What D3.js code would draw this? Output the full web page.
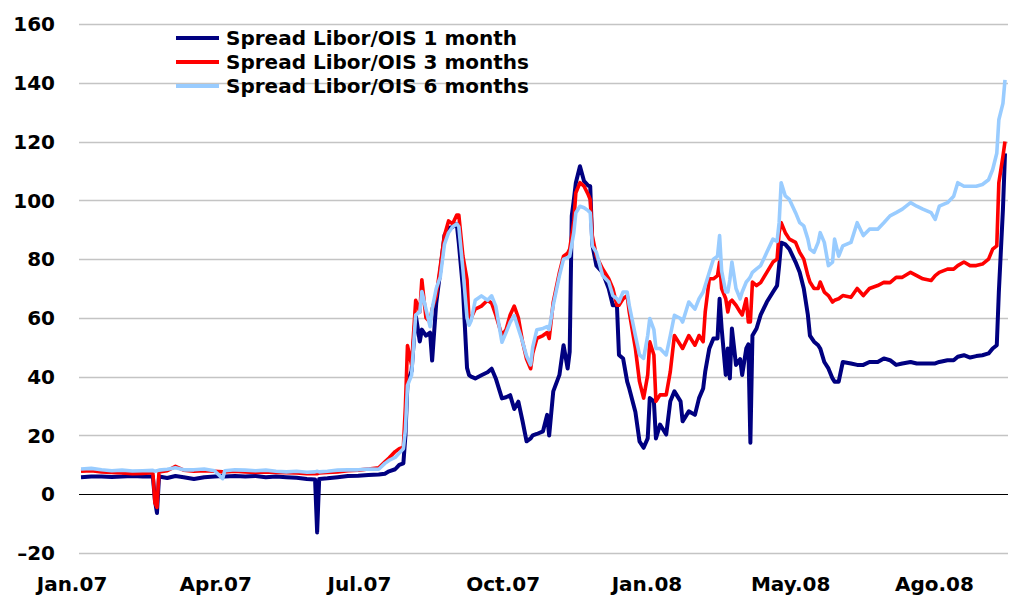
<!DOCTYPE html>
<html>
<head>
<meta charset="utf-8">
<script src="https://cdn.jsdelivr.net/npm/d3@7"></script>
<style>
  body { margin: 0; background: #fff; }
  svg text { font-family: "DejaVu Sans", sans-serif; font-weight: bold; font-size: 20px; fill: #000; }
</style>
</head>
<body>
<div id="vis"></div>
<script>
// business-day index of each sample (0 = first trading day of Jan 2007)
const day = [0,5,10,15,20,25,30,35,36,37,38,42,46,50,55,60,65,69,70,75,80,85,90,95,100,105,110,114,115,116,120,125,130,135,140,145,148,150,153,155,157,158,159,161,163,165,166,168,170,171,173,175,177,179,181,183,184,186,188,189,190,192,195,198,200,202,205,207,209,211,213,215,217,219,220,222,225,227,228,230,233,235,237,238,239,240,241,243,245,247,248,249,251,254,257,259,261,262,264,266,267,270,272,274,276,277,279,280,282,285,287,289,292,293,296,299,301,303,304,306,308,310,311,312,314,315,316,317,319,321,322,324,325,326,327,329,331,334,337,339,340,341,343,345,348,350,352,354,355,357,359,360,362,364,366,367,369,371,375,378,381,384,388,391,394,397,400,404,407,410,414,416,418,422,425,427,430,433,436,439,442,444,446,447,449,450];

const oneMonth = [5.8,6.0,6.0,5.9,6.0,6.2,6.0,6.0,-2,-6.4,6.0,5.5,6.2,5.8,5.2,5.8,6.0,6.2,6.0,6.2,6.0,6.2,5.8,6.0,5.8,5.6,5.2,5.0,-13,5.2,5.4,5.8,6.2,6.3,6.5,6.7,7.0,7.8,8.5,10,10.5,20,38,42,61,52,56,54,55,45.5,65,76,88,90.5,91,92,85.5,70,43,40.5,40,39.4,40.5,41.5,42.7,39.4,32.6,33,33.7,29,31.5,25,18,19,20,20.5,21.4,27,20,35,40.6,50.7,42.8,48.5,94.7,100,106,111.6,106.5,105,104.8,85,77.8,75.5,70,64.3,64.3,47.4,46.2,38.3,36,28,18,15.8,19,32.7,31.6,19,23.7,20.3,31.6,35,31.6,24.8,28.2,27,32.7,36,41.7,49.6,53,53,66.5,56.4,40.6,49.6,39.4,56.4,44,46,40.6,49.6,51,17.5,54,56.4,61,65.4,68.8,71,77.8,85.6,85,83.4,79,75.5,70,61,54,51.9,50.7,49.6,45,42.8,39.4,38.3,38.3,45,44.5,44,44,45,45,46.2,45.6,44,44.5,45,44.5,44.5,44.5,44.5,45,45.6,45.6,46.8,47.3,46.5,47,47.3,47.9,49.6,50.7,68.8,97,116];

const threeMonth = [7.8,8.0,7.6,7.4,7.2,7.0,7.1,7.3,-3,-4.5,7.6,8.0,9.5,8.2,7.8,8.0,7.8,7.6,7.6,7.8,7.6,7.4,7.6,7.4,7.3,7.2,7.0,7.0,7.0,7.2,7.4,7.6,8.0,8.2,8.6,9.0,11,12.3,14.5,15.5,16,30,50.6,44,66,62,73,60,58.5,63,67.5,77.7,88,93,92,95,95,81,73,58.5,60,63,64,66,65,61,54,56,61,64,60,52,46,42.7,48,53,54,55,53,65.4,75.5,81,82,83.4,88,93,102.6,106,104.8,102,100.3,88,81,76.7,73.3,70,64.3,64.3,66.5,67.6,62,49.6,38.3,32.7,40.6,51.9,47.4,31.6,33.8,33.8,41.7,54,50.7,49.6,54,50.7,54,51.9,62,73.3,73.3,74.4,79,70,66.5,62,65.4,66,64.3,62,61,66.5,58.6,58.6,72.2,71,72,75.5,79,80,89,92.4,89,86.8,85.7,82.3,80,74.4,72.2,70,70,72.2,68.8,67.6,65.4,66,66.5,67.6,67,70,67.6,70,71,72.1,72,73.8,73.8,75.5,74.4,73.3,72.7,74.4,75.5,76.6,76.6,77.8,79,77.8,77.8,78.3,80,83.4,84.5,106,115,120];

const sixMonth = [8.6,8.8,8.3,8.0,8.2,7.9,8.0,8.1,7.8,8.0,8.2,8.5,9.0,8.3,8.3,8.6,8.0,5.3,8.0,8.3,8.2,8.0,8.2,7.8,7.6,7.8,7.5,7.6,7.8,7.6,7.8,8.2,8.3,8.3,8.6,8.5,10.5,11.5,12.5,14,15.5,22,37,40.5,61,62,69,63,57,63,70,74,85,89,91,92,91,76.5,60,57.5,59,66,67.5,66,67.5,64,51.7,55,58.5,60.8,56.3,52,47,44,50,56,56.4,57,56,64.3,74.4,80,80.5,81,85,89,95.8,98,97.5,96.5,95.8,84.5,82.3,74.4,72.2,67.6,66.5,65.4,68.8,68.8,64.3,54,47.4,46.2,54,59.8,56,49.6,49.6,47.4,54,60.9,59.8,58.6,65.4,63,66.5,68.8,71,75.5,80,81,88,76,68.8,68.8,73,79,70,66.5,68.8,72.2,73,74,75.5,76.7,77.8,82.3,86.8,86,92.4,106,101.5,100.3,95.8,92.4,91.3,86.8,83.4,82.3,85.7,89,85.7,77.8,79,86.8,81,84.5,85.7,92.4,88,90.2,90.2,92.4,94.7,95.8,97,99.2,98,97,95.8,93.5,98,99.2,101.4,106,104.8,104.8,104.8,105.4,107,110.5,116,127.4,133,141];

const seriesNames = ["Spread Libor/OIS 1 month", "Spread Libor/OIS 3 months", "Spread Libor/OIS 6 months"];
const seriesColors = ["#000080", "#ff0000", "#99ccff"];
const seriesValues = [oneMonth, threeMonth, sixMonth];

const tickDays = [0, 70, 140, 210, 280, 350, 420];
const tickLabels = ["Jan.07", "Apr.07", "Jul.07", "Oct.07", "Jan.08", "May.08", "Ago.08"];
const yTicks = [-20, 0, 20, 40, 60, 80, 100, 120, 140, 160];

const W = 1010, H = 605;
const plotLeft = 79, plotRight = 1008;

const svg = d3.select('#vis')
    .append('svg')
    .attr('width', W)
    .attr('height', H);

const xScale = d3.scaleLinear()
    .domain([0, 450])
    .range([81, 1005]);
const yScale = d3.scaleLinear()
    .domain([-20, 160])
    .range([553, 24]);

// gridlines
svg.append('g')
    .selectAll('line')
    .data(yTicks)
    .join('line')
    .attr('x1', plotLeft)
    .attr('x2', plotRight)
    .attr('y1', d => Math.round(yScale(d)) + 0.5)
    .attr('y2', d => Math.round(yScale(d)) + 0.5)
    .attr('stroke', d => d === 0 ? '#000' : '#c4c4c4')
    .attr('stroke-width', d => d === 0 ? 1.2 : 1.6);

// y labels
svg.append('g')
    .selectAll('text')
    .data(yTicks)
    .join('text')
    .attr('x', 55)
    .attr('y', d => yScale(d))
    .attr('dy', '0.36em')
    .attr('text-anchor', 'end')
    .text(d => d < 0 ? '\u2013' + Math.abs(d) : d);

// x labels
svg.append('g')
    .selectAll('text')
    .data(tickDays)
    .join('text')
    .attr('x', d => xScale(d))
    .attr('dx', -9)
    .attr('y', 591)
    .attr('text-anchor', 'middle')
    .text((d, i) => tickLabels[i]);

const line = d3.line()
    .x((d, i) => xScale(day[i]))
    .y(d => yScale(d));

svg.append('g')
    .selectAll('path')
    .data(seriesValues)
    .join('path')
    .attr('d', d => line(d))
    .attr('fill', 'none')
    .attr('stroke', (d, i) => seriesColors[i])
    .attr('stroke-width', (d, i) => i === 0 ? 4 : 3.6)
    .attr('stroke-linejoin', 'round');

// legend
const legend = svg.append('g')
    .selectAll('g')
    .data(seriesNames)
    .join('g')
    .attr('transform', (d, i) => `translate(176,${38 + i * 24})`);

legend.append('line')
    .attr('x1', 0)
    .attr('x2', 43)
    .attr('stroke', (d, i) => seriesColors[i])
    .attr('stroke-width', 4);

legend.append('text')
    .attr('x', 50)
    .attr('dy', '0.36em')
    .text(d => d);
</script>
</body>
</html>
